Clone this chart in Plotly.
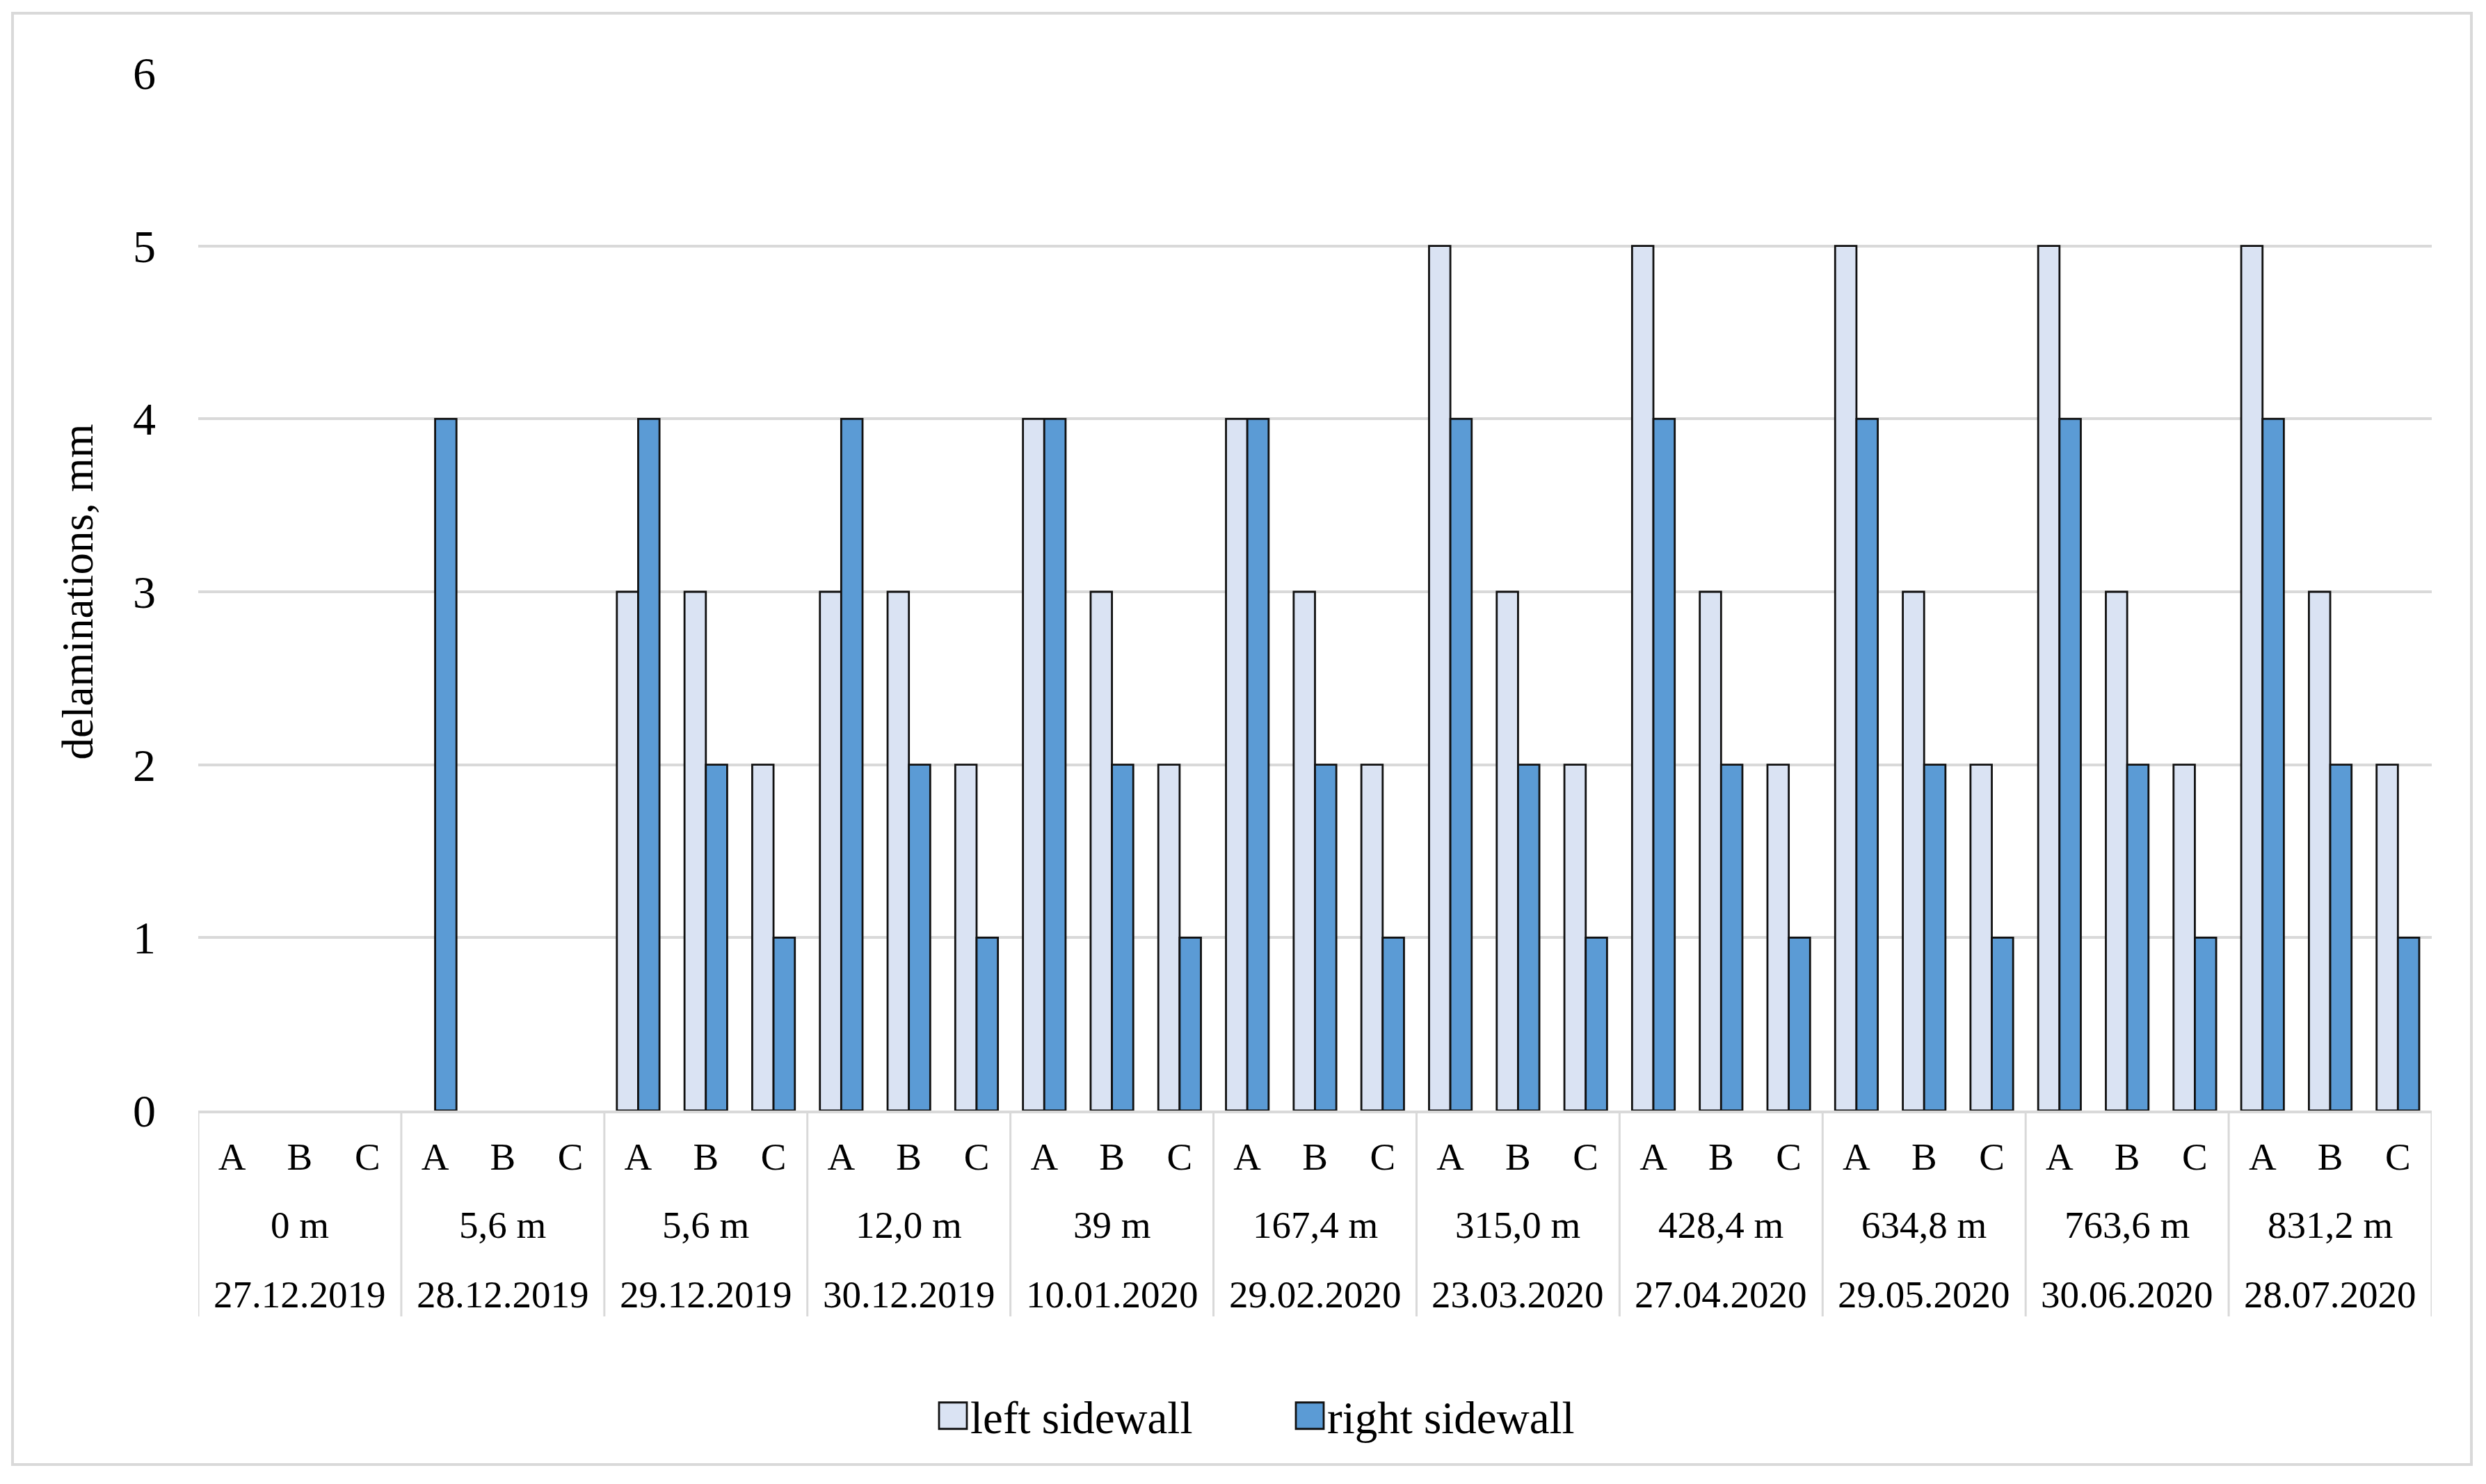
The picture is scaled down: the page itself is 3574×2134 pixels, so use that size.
import plotly.graph_objects as go

# ---------------- data ----------------
points = ["A", "B", "C"]
distances = ["0 m", "5,6 m", "5,6 m", "12,0 m", "39 m", "167,4 m",
             "315,0 m", "428,4 m", "634,8 m", "763,6 m", "831,2 m"]
dates = ["27.12.2019", "28.12.2019", "29.12.2019", "30.12.2019", "10.01.2020",
         "29.02.2020", "23.03.2020", "27.04.2020", "29.05.2020", "30.06.2020",
         "28.07.2020"]
left_sidewall = [0, 0, 0,  0, 0, 0,  3, 3, 2,  3, 3, 2,  4, 3, 2,  4, 3, 2,
                 5, 3, 2,  5, 3, 2,  5, 3, 2,  5, 3, 2,  5, 3, 2]
right_sidewall = [0, 0, 0,  4, 0, 0,  4, 2, 1,  4, 2, 1,  4, 2, 1,  4, 2, 1,
                  4, 2, 1,  4, 2, 1,  4, 2, 1,  4, 2, 1,  4, 2, 1]
y_ticks = [0, 1, 2, 3, 4, 5, 6]

# ---------------- layout helpers ----------------
W, H = 3574, 2134
ML, MR, MT, MB = 285, 78, 105, 537
PW, PH = W - ML - MR, H - MT - MB
FONT = "Liberation Serif, Times New Roman, serif"
GRID = "#D9D9D9"
OUTLINE = "#111111"


def px_x(p):
    return (p - ML) / PW


def px_y(p):
    return (H - MB - p) / PH


n_groups = len(dates)
n_pts = len(points)
xpos = list(range(n_groups * n_pts))
ticktext = points * n_groups


def outline_widths(values):
    # zero-valued bars are not drawn in the original (no outline either)
    return [2.8 if v else 0 for v in values]


fig = go.Figure()
fig.add_trace(go.Bar(
    x=xpos, y=left_sidewall, name="left sidewall",
    marker=dict(color="#DAE3F3",
                line=dict(color=OUTLINE, width=outline_widths(left_sidewall))),
))
fig.add_trace(go.Bar(
    x=xpos, y=right_sidewall, name="right sidewall",
    marker=dict(color="#5B9BD5",
                line=dict(color=OUTLINE, width=outline_widths(right_sidewall))),
))

shapes = []
# group dividers below the axis
for g in range(n_groups + 1):
    xb = g * n_pts - 0.5
    shapes.append(dict(type="line", xref="x", yref="paper",
                       x0=xb, x1=xb, y0=0, y1=px_y(1893),
                       line=dict(color=GRID, width=3), layer="above"))
# outer chart border
shapes.append(dict(type="rect", xref="paper", yref="paper",
                   x0=px_x(18), x1=px_x(3553), y0=px_y(2106), y1=px_y(19),
                   line=dict(color=GRID, width=4), fillcolor="rgba(0,0,0,0)"))

annotations = []
for g in range(n_groups):
    xc = g * n_pts + (n_pts - 1) / 2
    annotations.append(dict(x=xc, xref="x", y=px_y(1761), yref="paper",
                            text=distances[g], showarrow=False,
                            xanchor="center", yanchor="middle",
                            font=dict(family=FONT, size=55, color="black")))
    annotations.append(dict(x=xc, xref="x", y=px_y(1861), yref="paper",
                            text=dates[g], showarrow=False,
                            xanchor="center", yanchor="middle",
                            font=dict(family=FONT, size=55, color="black")))

fig.update_layout(
    width=W, height=H,
    margin=dict(l=ML, r=MR, t=MT, b=MB),
    paper_bgcolor="white", plot_bgcolor="white",
    barmode="group", bargap=0.37, bargroupgap=0,
    font=dict(family=FONT, color="black"),
    xaxis=dict(
        range=[-0.5, len(xpos) - 0.5],
        tickmode="array", tickvals=xpos, ticktext=ticktext,
        tickfont=dict(family=FONT, size=55, color="black"),
        ticks="", showgrid=False, zeroline=False,
        showline=True, linecolor=GRID, linewidth=4,
        ticklabelstandoff=15,
    ),
    yaxis=dict(
        range=[0, 6], tickmode="array", tickvals=y_ticks,
        tickfont=dict(family=FONT, size=66, color="black"),
        showgrid=True, gridcolor=GRID, gridwidth=4,
        zeroline=False, showline=False, ticks="",
        ticklabelstandoff=60,
        title=dict(text="delaminations, mm",
                   font=dict(family=FONT, size=63, color="black"),
                   standoff=36),
        automargin=True,
    ),
    legend=dict(
        orientation="h", xanchor="left", yanchor="middle",
        x=px_x(1345), y=px_y(2036),
        font=dict(family=FONT, size=65, color="black"),
        itemwidth=40, entrywidth=458, traceorder="normal",
        bgcolor="rgba(0,0,0,0)",
    ),
    shapes=shapes,
    annotations=annotations,
)

# Enlarge the legend swatches to Excel-style 40px boxes.
post = """
document.body.style.margin = '0';
document.body.style.padding = '0';
var gd = document.getElementById('{plot_id}');
function fixLegend(){
  gd.querySelectorAll('.legend .legendpoints path').forEach(function(p){
    p.setAttribute('d', 'M20,19H-20V-19H20Z');
    p.style.stroke = '#111111';
    p.style.strokeOpacity = '1';
    p.style.strokeWidth = '2.8px';
  });
}
fixLegend();
gd.on('plotly_afterplot', fixLegend);
"""

fig.write_html("out.html", post_script=post,
               config={"displayModeBar": False})
